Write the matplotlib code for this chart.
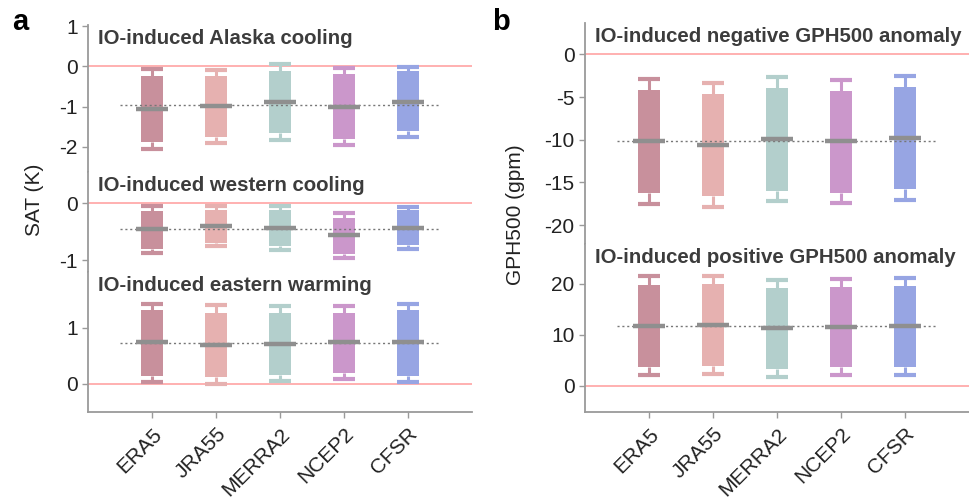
import numpy as np
import matplotlib
matplotlib.use('Agg')
import matplotlib.pyplot as plt

plt.rcParams['font.family'] = ['Liberation Sans', 'DejaVu Sans']
plt.rcParams['axes.unicode_minus'] = False

datasets = ['ERA5', 'JRA55', 'MERRA2', 'NCEP2', 'CFSR']
colors = ['#c8909c', '#e6b1b0', '#b3cfcc', '#cb97cb', '#97a5e3']

# whisker low, box low, box high, whisker high, mean
alaska_wlo = [-2.05, -1.90, -1.82, -1.96, -1.74]
alaska_blo = [-1.88, -1.74, -1.66, -1.80, -1.61]
alaska_bhi = [-0.24, -0.25, -0.11, -0.19, -0.12]
alaska_whi = [-0.07, -0.09, 0.07, -0.03, -0.02]
alaska_mean = [-1.06, -0.99, -0.88, -1.00, -0.88]

west_wlo = [-0.88, -0.76, -0.82, -0.97, -0.80]
west_blo = [-0.81, -0.69, -0.75, -0.89, -0.74]
west_bhi = [-0.14, -0.12, -0.12, -0.25, -0.12]
west_whi = [-0.05, -0.05, -0.05, -0.17, -0.06]
west_mean = [-0.46, -0.40, -0.44, -0.56, -0.43]

east_wlo = [0.03, 0.00, 0.05, 0.08, 0.03]
east_blo = [0.14, 0.12, 0.15, 0.19, 0.14]
east_bhi = [1.31, 1.27, 1.26, 1.27, 1.32]
east_whi = [1.43, 1.40, 1.39, 1.39, 1.43]
east_mean = [0.74, 0.69, 0.71, 0.74, 0.74]

neg_wlo = [-17.5, -17.9, -17.2, -17.4, -17.0]
neg_blo = [-16.2, -16.6, -16.0, -16.2, -15.8]
neg_bhi = [-4.16, -4.63, -3.89, -4.28, -3.85]
neg_whi = [-2.92, -3.39, -2.65, -3.04, -2.57]
neg_mean = [-10.2, -10.6, -9.9, -10.2, -9.77]

pos_wlo = [2.1, 2.3, 1.7, 2.1, 2.1]
pos_blo = [3.8, 3.9, 3.3, 3.8, 3.7]
pos_bhi = [19.8, 19.9, 19.1, 19.3, 19.5]
pos_whi = [21.6, 21.6, 20.8, 21.0, 21.2]
pos_mean = [11.8, 12.0, 11.3, 11.6, 11.7]

spine_c = '#9a9a9a'
text_c = '#3c3c3c'
fs = 15


def draw_section(ax, wlo, blo, bhi, whi, mean, title, ylim, yticks, bottom=False):
    x = np.arange(len(datasets))
    w = 0.35
    ax.bar(x, np.array(bhi) - np.array(blo), bottom=blo, width=w, color=colors, zorder=2)
    ax.vlines(x, blo, wlo, colors=colors, lw=2.2, zorder=2)
    ax.vlines(x, bhi, whi, colors=colors, lw=2.2, zorder=2)
    ax.hlines(wlo, x - w / 2, x + w / 2, colors=colors, lw=3, zorder=2)
    ax.hlines(whi, x - w / 2, x + w / 2, colors=colors, lw=3, zorder=2)
    ax.hlines(np.mean(mean), -0.5, 4.5, colors='#777777', lw=1, linestyles=(0, (1.5, 2)), zorder=3)
    ax.hlines(mean, x - 0.25, x + 0.25, colors='#8f8f8f', lw=3.2, zorder=4)
    ax.axhline(0, color='#ffa3a3', lw=1.2, zorder=1)
    ax.set_xlim(-1, 5)
    ax.set_ylim(*ylim)
    ax.set_yticks(yticks)
    # title sits ~10 px right of the spine, ~4 px below the top
    ax.annotate(title, xy=(0, 1), xycoords='axes fraction', xytext=(7.5, -3), textcoords='offset points',
                ha='left', va='top', fontsize=14.7, fontweight='bold', color=text_c)
    for s in ['top', 'right']:
        ax.spines[s].set_visible(False)
    ax.spines['left'].set_color(spine_c)
    ax.spines['left'].set_linewidth(1.3)
    ax.tick_params(axis='y', colors=spine_c, labelcolor='#222222', labelsize=fs, length=4, width=1)
    ax.set_xticks(x)
    if bottom:
        ax.spines['bottom'].set_color(spine_c)
        ax.spines['bottom'].set_linewidth(1.3)
        ax.tick_params(axis='x', colors=spine_c, labelcolor='#222222', labelsize=fs, length=4, width=1, pad=5)
        ax.set_xticklabels(datasets, rotation=45, ha='right', rotation_mode='anchor')
    else:
        ax.spines['bottom'].set_visible(False)
        ax.tick_params(axis='x', bottom=False, labelbottom=False)


fig = plt.figure(figsize=(9.7, 5.0), dpi=100)

ax1 = fig.add_axes([0.0907, 0.656, 0.396, 0.294])
ax2 = fig.add_axes([0.0907, 0.456, 0.396, 0.200])
ax3 = fig.add_axes([0.0907, 0.176, 0.396, 0.280])
draw_section(ax1, alaska_wlo, alaska_blo, alaska_bhi, alaska_whi, alaska_mean,
             'IO-induced Alaska cooling', (-2.62, 1.025), [1, 0, -1, -2])
draw_section(ax2, west_wlo, west_blo, west_bhi, west_whi, west_mean,
             'IO-induced western cooling', (-1.21, 0.553), [0, -1])
draw_section(ax3, east_wlo, east_blo, east_bhi, east_whi, east_mean,
             'IO-induced eastern warming', (-0.505, 1.995), [1, 0], bottom=True)
fig.text(0.036, 0.60, 'SAT (K)', rotation=90, ha='center', va='center', fontsize=fs, color='#222222')
fig.text(0.012, 0.955, 'a', fontsize=21, fontweight='bold', ha='left', va='center')

ax4 = fig.add_axes([0.6031, 0.512, 0.396, 0.442])
ax5 = fig.add_axes([0.6031, 0.176, 0.396, 0.336])
draw_section(ax4, neg_wlo, neg_blo, neg_bhi, neg_whi, neg_mean,
             'IO-induced negative GPH500 anomaly', (-22.2, 3.67), [0, -5, -10, -15, -20])
draw_section(ax5, pos_wlo, pos_blo, pos_bhi, pos_whi, pos_mean,
             'IO-induced positive GPH500 anomaly', (-5.1, 27.8), [20, 10, 0], bottom=True)
fig.text(0.531, 0.57, 'GPH500 (gpm)', rotation=90, ha='center', va='center', fontsize=fs, color='#222222')
fig.text(0.507, 0.955, 'b', fontsize=21, fontweight='bold', ha='left', va='center')

fig.savefig('out.png', dpi=100)
